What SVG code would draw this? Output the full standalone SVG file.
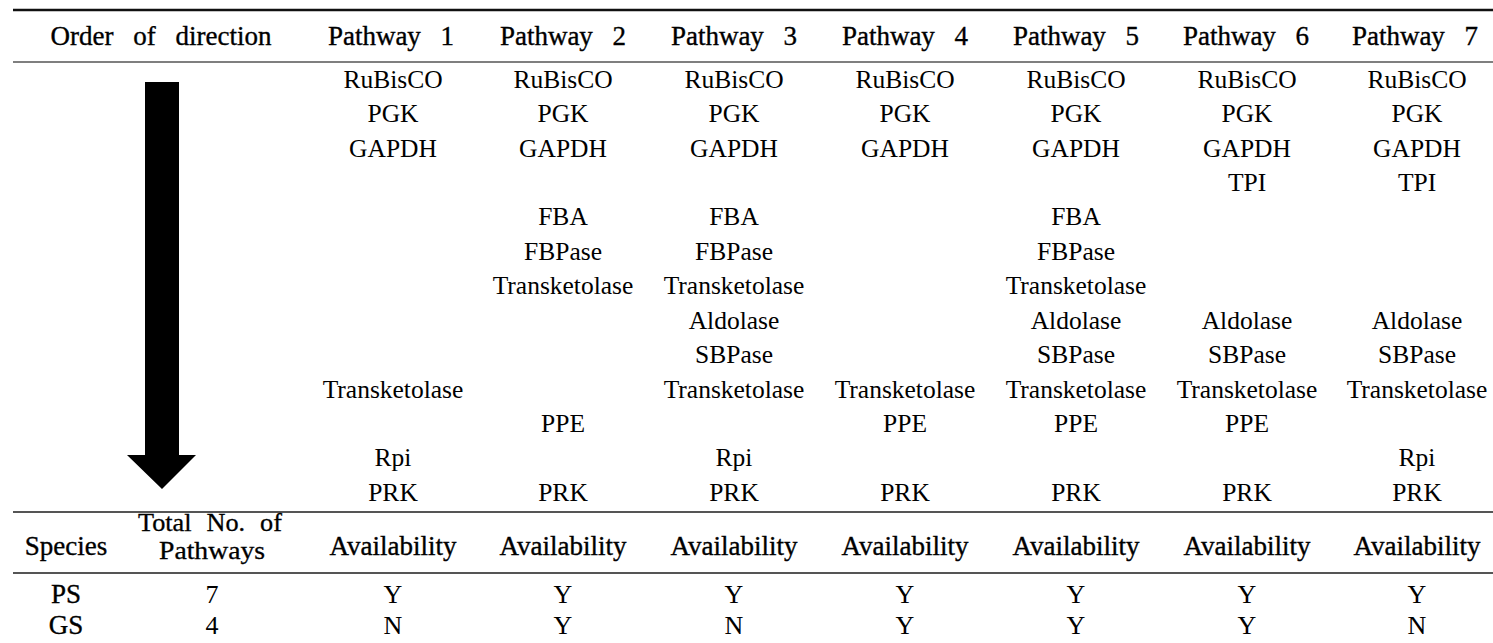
<svg xmlns="http://www.w3.org/2000/svg" width="1493" height="643" viewBox="0 0 1493 643" font-family="'Liberation Serif', 'DejaVu Serif', serif">
<style>
  text { font-family: 'Liberation Serif', 'Times New Roman', 'DejaVu Serif', serif; fill: #000; text-anchor: middle; }
  .h { font-size: 27px; word-spacing: 13px; stroke: #000; stroke-width: 0.35px; }
  .t { font-size: 25px; word-spacing: 8px; stroke: #000; stroke-width: 0.3px; }
  .e { font-size: 25.5px; }
  .v { font-size: 26px; }
  .rule { fill: none; }
</style>
<rect width="1493" height="643" fill="#fff"/>
<g id="rules">
  <line class="rule" x1="13" y1="10" x2="1493" y2="10" stroke="#111" stroke-width="2.5"/>
  <line class="rule" x1="13" y1="62" x2="1493" y2="62" stroke="#555" stroke-width="1.5"/>
  <line class="rule" x1="13" y1="512" x2="1493" y2="512" stroke="#555" stroke-width="2"/>
  <line class="rule" x1="13" y1="573" x2="1493" y2="573" stroke="#555" stroke-width="2"/>
</g>
<g id="header">
  <text class="h" x="161" y="45">Order of direction</text>
  <text class="h" x="391" y="45">Pathway 1</text>
  <text class="h" x="563" y="45">Pathway 2</text>
  <text class="h" x="734" y="45">Pathway 3</text>
  <text class="h" x="905" y="45">Pathway 4</text>
  <text class="h" x="1076" y="45">Pathway 5</text>
  <text class="h" x="1246" y="45">Pathway 6</text>
  <text class="h" x="1415" y="45">Pathway 7</text>
</g>
<g id="arrow">
  <path d="M145,82 L179,82 L179,455 L196,455 L162,489 L127,455 L145,455 Z" fill="#000"/>
</g>
<g id="pathway1">
  <text class="e" x="393" y="88">RuBisCO</text>
  <text class="e" x="393" y="122">PGK</text>
  <text class="e" x="393" y="157">GAPDH</text>
  <text class="e" x="393" y="398">Transketolase</text>
  <text class="e" x="393" y="466">Rpi</text>
  <text class="e" x="393" y="501">PRK</text>
</g>
<g id="pathway2">
  <text class="e" x="563" y="88">RuBisCO</text>
  <text class="e" x="563" y="122">PGK</text>
  <text class="e" x="563" y="157">GAPDH</text>
  <text class="e" x="563" y="225">FBA</text>
  <text class="e" x="563" y="260">FBPase</text>
  <text class="e" x="563" y="294">Transketolase</text>
  <text class="e" x="563" y="432">PPE</text>
  <text class="e" x="563" y="501">PRK</text>
</g>
<g id="pathway3">
  <text class="e" x="734" y="88">RuBisCO</text>
  <text class="e" x="734" y="122">PGK</text>
  <text class="e" x="734" y="157">GAPDH</text>
  <text class="e" x="734" y="225">FBA</text>
  <text class="e" x="734" y="260">FBPase</text>
  <text class="e" x="734" y="294">Transketolase</text>
  <text class="e" x="734" y="329">Aldolase</text>
  <text class="e" x="734" y="363">SBPase</text>
  <text class="e" x="734" y="398">Transketolase</text>
  <text class="e" x="734" y="466">Rpi</text>
  <text class="e" x="734" y="501">PRK</text>
</g>
<g id="pathway4">
  <text class="e" x="905" y="88">RuBisCO</text>
  <text class="e" x="905" y="122">PGK</text>
  <text class="e" x="905" y="157">GAPDH</text>
  <text class="e" x="905" y="398">Transketolase</text>
  <text class="e" x="905" y="432">PPE</text>
  <text class="e" x="905" y="501">PRK</text>
</g>
<g id="pathway5">
  <text class="e" x="1076" y="88">RuBisCO</text>
  <text class="e" x="1076" y="122">PGK</text>
  <text class="e" x="1076" y="157">GAPDH</text>
  <text class="e" x="1076" y="225">FBA</text>
  <text class="e" x="1076" y="260">FBPase</text>
  <text class="e" x="1076" y="294">Transketolase</text>
  <text class="e" x="1076" y="329">Aldolase</text>
  <text class="e" x="1076" y="363">SBPase</text>
  <text class="e" x="1076" y="398">Transketolase</text>
  <text class="e" x="1076" y="432">PPE</text>
  <text class="e" x="1076" y="501">PRK</text>
</g>
<g id="pathway6">
  <text class="e" x="1247" y="88">RuBisCO</text>
  <text class="e" x="1247" y="122">PGK</text>
  <text class="e" x="1247" y="157">GAPDH</text>
  <text class="e" x="1247" y="191">TPI</text>
  <text class="e" x="1247" y="329">Aldolase</text>
  <text class="e" x="1247" y="363">SBPase</text>
  <text class="e" x="1247" y="398">Transketolase</text>
  <text class="e" x="1247" y="432">PPE</text>
  <text class="e" x="1247" y="501">PRK</text>
</g>
<g id="pathway7">
  <text class="e" x="1417" y="88">RuBisCO</text>
  <text class="e" x="1417" y="122">PGK</text>
  <text class="e" x="1417" y="157">GAPDH</text>
  <text class="e" x="1417" y="191">TPI</text>
  <text class="e" x="1417" y="329">Aldolase</text>
  <text class="e" x="1417" y="363">SBPase</text>
  <text class="e" x="1417" y="398">Transketolase</text>
  <text class="e" x="1417" y="466">Rpi</text>
  <text class="e" x="1417" y="501">PRK</text>
</g>
<g id="species-header">
  <text class="h" x="66" y="555">Species</text>
  <text class="t" x="210" y="531" textLength="144" lengthAdjust="spacingAndGlyphs">Total No. of</text>
  <text class="t" x="212" y="559" textLength="106" lengthAdjust="spacingAndGlyphs">Pathways</text>
  <text class="h" x="393" y="555">Availability</text>
  <text class="h" x="563" y="555">Availability</text>
  <text class="h" x="734" y="555">Availability</text>
  <text class="h" x="905" y="555">Availability</text>
  <text class="h" x="1076" y="555">Availability</text>
  <text class="h" x="1247" y="555">Availability</text>
  <text class="h" x="1417" y="555">Availability</text>
</g>
<g id="row-PS">
  <text class="h" x="66" y="603">PS</text>
  <text class="v" x="212" y="603">7</text>
  <text class="v" x="393" y="603">Y</text>
  <text class="v" x="563" y="603">Y</text>
  <text class="v" x="734" y="603">Y</text>
  <text class="v" x="905" y="603">Y</text>
  <text class="v" x="1076" y="603">Y</text>
  <text class="v" x="1247" y="603">Y</text>
  <text class="v" x="1417" y="603">Y</text>
</g>
<g id="row-GS">
  <text class="h" x="66" y="634">GS</text>
  <text class="v" x="212" y="634">4</text>
  <text class="v" x="393" y="634">N</text>
  <text class="v" x="563" y="634">Y</text>
  <text class="v" x="734" y="634">N</text>
  <text class="v" x="905" y="634">Y</text>
  <text class="v" x="1076" y="634">Y</text>
  <text class="v" x="1247" y="634">Y</text>
  <text class="v" x="1417" y="634">N</text>
</g>
</svg>
